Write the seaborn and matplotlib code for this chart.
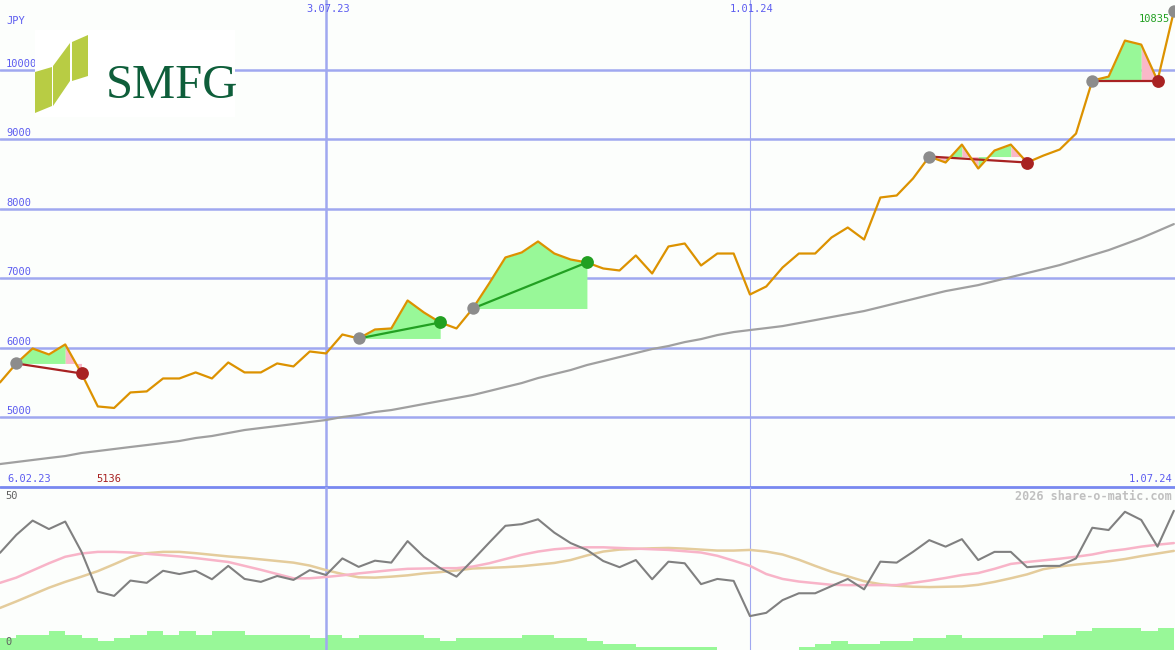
"""
SMFG weekly share price chart, share-o-matic style
"""

import pandas as pd
import matplotlib.pyplot as plt
import seaborn as sns
from itertools import groupby
from matplotlib.patches import Polygon

sns.set_style('white')
plt.rcParams['font.family'] = ['DejaVu Sans Mono']

# Weekly data, Mondays from 13.02.23 to 1.07.24
dates = pd.date_range('2023-02-13', periods=73, freq='7D')

price = [5503, 5776, 5991, 5905, 6049, 5632, 5158, 5136, 5359, 5374,
         5560, 5560, 5647, 5560, 5790, 5647, 5647, 5776, 5733, 5948,
         5920, 6192, 6135, 6264, 6279, 6681, 6509, 6365, 6279, 6566,
         6925, 7299, 7371, 7529, 7356, 7270, 7227, 7141, 7112, 7328,
         7069, 7457, 7500, 7184, 7356, 7356, 6767, 6882, 7155, 7356,
         7356, 7586, 7730, 7557, 8161, 8190, 8434, 8750, 8664, 8922,
         8578, 8836, 8922, 8664, 8764, 8851, 9080, 9842, 9899, 10417,
         10359, 9842, 10835]

ma_long = [4330, 4359, 4388, 4417, 4445, 4489, 4517, 4546, 4575, 4603,
           4632, 4661, 4704, 4733, 4776, 4819, 4848, 4876, 4905, 4934,
           4963, 5006, 5035, 5078, 5106, 5149, 5193, 5236, 5279, 5322,
           5379, 5437, 5494, 5566, 5624, 5681, 5753, 5810, 5868, 5925,
           5983, 6026, 6083, 6126, 6184, 6227, 6256, 6284, 6313, 6356,
           6399, 6443, 6486, 6529, 6586, 6644, 6701, 6759, 6816, 6859,
           6902, 6960, 7017, 7075, 7132, 7190, 7262, 7334, 7405, 7491,
           7578, 7678, 7779]

osc = [29.8, 35.3, 39.7, 37.1, 39.4, 30.1, 17.9, 16.6, 21.3, 20.6,
       24.3, 23.3, 24.3, 21.7, 25.8, 21.8, 20.9, 22.7, 21.5, 24.5,
       23.0, 28.1, 25.5, 27.4, 26.8, 33.4, 28.6, 25.1, 22.5, 27.6,
       32.9, 38.1, 38.6, 40.1, 36.0, 32.8, 30.7, 27.3, 25.4, 27.6,
       21.7, 27.1, 26.6, 20.2, 21.8, 21.2, 10.4, 11.4, 15.3, 17.4,
       17.4, 19.6, 21.8, 18.6, 27.1, 26.8, 30.1, 33.7, 31.7, 34.0,
       27.6, 30.1, 30.1, 25.4, 25.8, 25.8, 28.1, 37.5, 36.8, 42.4,
       39.9, 31.7, 42.7]

osc_fast = [20.6, 22.2, 24.4, 26.6, 28.6, 29.6, 30.1, 30.1, 29.9, 29.5,
            29.1, 28.7, 28.2, 27.6, 27.0, 25.8, 24.6, 23.3, 22.0, 22.0,
            22.4, 22.9, 23.5, 24.0, 24.5, 24.9, 25.0, 25.1, 25.1, 25.6,
            26.6, 27.9, 29.2, 30.2, 30.9, 31.3, 31.5, 31.5, 31.3, 31.1,
            30.9, 30.7, 30.3, 29.9, 28.9, 27.4, 25.8, 23.3, 21.8, 21.0,
            20.5, 20.0, 19.9, 19.9, 19.9, 19.9, 20.6, 21.3, 22.1, 23.0,
            23.6, 24.9, 26.4, 27.0, 27.5, 28.0, 28.6, 29.3, 30.3, 30.9,
            31.7, 32.3, 32.8]

osc_slow = [12.9, 14.9, 17.0, 19.1, 20.9, 22.5, 24.2, 26.3, 28.5, 29.7,
            30.1, 30.1, 29.7, 29.2, 28.7, 28.3, 27.8, 27.3, 26.8, 25.9,
            24.5, 23.3, 22.3, 22.2, 22.5, 22.9, 23.5, 23.9, 24.4, 25.0,
            25.2, 25.4, 25.7, 26.2, 26.7, 27.6, 29.0, 30.2, 30.8, 31.0,
            31.2, 31.3, 31.1, 30.8, 30.5, 30.5, 30.7, 30.2, 29.3, 27.7,
            25.8, 24.0, 22.6, 21.1, 20.2, 19.7, 19.4, 19.3, 19.4, 19.5,
            20.0, 20.9, 22.0, 23.2, 24.8, 25.6, 26.2, 26.7, 27.2, 27.9,
            28.8, 29.6, 30.4]

volume = [12, 15, 15, 19, 15, 12, 9, 12, 15, 19,
          15, 19, 15, 19, 19, 15, 15, 15, 15, 12,
          15, 12, 15, 15, 15, 15, 12, 9, 12, 12,
          12, 12, 15, 15, 12, 12, 9, 6, 6, 3,
          3, 3, 3, 3, 0, 0, 0, 0, 0, 3,
          6, 9, 6, 6, 9, 9, 12, 12, 15, 12,
          12, 12, 12, 12, 15, 15, 19, 22, 22, 22,
          19, 22, 22]

# trades: week index of entry / exit, colour of each weekly fill segment
trade_entry = [1, 22, 29, 57, 67]
trade_exit = [5, 27, 36, 63, 71]
trade_fill = ['gggp', 'ggggg', 'ggggggg', 'pgpggp', 'gggp']
open_entry = 72

price_ticks = [5000, 6000, 7000, 8000, 9000, 10000]
date_marks = [pd.Timestamp('2023-07-03'), pd.Timestamp('2024-01-01')]
date_labels = ['3.07.23', '1.01.24']

BG = '#fcfefc'
GRID = '#a0a8f0'
BLUE_TXT = '#5c5cf0'
ORANGE = '#dc9200'
GREEN_FILL = '#98f898'
PINK_FILL = '#fab8c8'
DARK_RED = '#a82222'
DARK_GREEN = '#22a022'

df = pd.DataFrame({'date': dates, 'price': price, 'ma_long': ma_long,
                   'osc': osc, 'osc_fast': osc_fast, 'osc_slow': osc_slow,
                   'volume': volume})

fig = plt.figure(figsize=(11.75, 6.5), dpi=100, facecolor=BG)
ax = fig.add_axes([0, 163 / 650, 1, 487 / 650], facecolor=BG)
ax2 = fig.add_axes([0, 0, 1, 163 / 650], facecolor=BG)
axv = ax2.twinx()

xlim = (dates[0], dates[-1] + pd.Timedelta(days=0.5))

# ---- price panel ----
for v in price_ticks:
    ax.axhline(v, color=GRID, lw=1.8, zorder=1)
    ax.annotate(f'{v}', xy=(0, v), xycoords=('axes fraction', 'data'),
                xytext=(6, 3), textcoords='offset pixels', va='baseline',
                ha='left', color=BLUE_TXT, fontsize=7.5, zorder=8)
for d, lw in zip(date_marks, [1.8, 0.8]):
    ax.axvline(d, color=GRID, lw=lw, zorder=1)
    ax2.axvline(d, color=GRID, lw=lw, zorder=1)
for d, lab in zip(date_marks, date_labels):
    ax.annotate(lab, xy=(d, 1), xycoords=('data', 'axes fraction'),
                xytext=(2, -9), textcoords='offset pixels', ha='center',
                va='center', color=BLUE_TXT, fontsize=7.5)

# trade fills (one polygon per run of same colour) and lines
for e, x, segs in zip(trade_entry, trade_exit, trade_fill):
    k = 0
    for c, run in groupby(segs):
        n = len(list(run))
        i0, i1 = e + k, e + k + n
        ax.fill_between(dates[i0:i1 + 1], price[i0:i1 + 1], price[e],
                        color=GREEN_FILL if c == 'g' else PINK_FILL,
                        lw=0, zorder=2)
        k += n
    win = price[x] > price[e]
    ax.plot([dates[e], dates[x]], [price[e], price[x]],
            color=DARK_GREEN if win else DARK_RED, lw=1.6, zorder=3)

sns.lineplot(data=df, x='date', y='ma_long', color='#a0a0a0', lw=1.6,
             ax=ax, zorder=2)
sns.lineplot(data=df, x='date', y='price', color=ORANGE, lw=1.6,
             ax=ax, zorder=4)

entries = trade_entry + [open_entry]
ax.scatter(dates[entries], [price[i] for i in entries], s=80,
           color='#8c8c8c', lw=0, zorder=5)
for e, x in zip(trade_entry, trade_exit):
    win = price[x] > price[e]
    ax.scatter([dates[x]], [price[x]], s=85, lw=0, zorder=5,
               color=DARK_GREEN if win else DARK_RED)

ax.set_xlim(xlim)
ax.set_ylim(4000, 11000)
ax.axhline(4000, color='#7888f0', lw=2, clip_on=False, zorder=6)
ax.axis('off')

ax.annotate('JPY', xy=(0, 1), xycoords='axes fraction', xytext=(6, -21),
            textcoords='offset pixels', va='center', color=BLUE_TXT,
            fontsize=7.5)
ax.annotate('6.02.23', xy=(0, 0), xycoords='axes fraction', xytext=(7, 8),
            textcoords='offset pixels', va='center', color=BLUE_TXT,
            fontsize=7.5)
ax.annotate('1.07.24', xy=(1, 0), xycoords='axes fraction', xytext=(-3, 8),
            textcoords='offset pixels', va='center', ha='right',
            color=BLUE_TXT, fontsize=7.5)
i_min = price.index(min(price))
ax.annotate(f'{min(price)}', xy=(dates[i_min], 0),
            xycoords=('data', 'axes fraction'), xytext=(7, 8),
            textcoords='offset pixels', va='center', ha='right',
            color=DARK_RED, fontsize=7.5)
ax.annotate(f'{price[-1]}', xy=(dates[-1], price[-1]), xytext=(-4, -8),
            textcoords='offset pixels', va='center', ha='right',
            color=DARK_GREEN, fontsize=7.5)

# ---- indicator panel ----
axv.fill_between(dates, volume, step='post', color=GREEN_FILL, lw=0)
axv.set_ylim(0, 163)
axv.axis('off')
ax2.set_zorder(axv.get_zorder() + 1)
ax2.patch.set_visible(False)

sns.lineplot(data=df, x='date', y='osc_slow', color='#e4cc9c', lw=1.8,
             ax=ax2, zorder=3)
sns.lineplot(data=df, x='date', y='osc_fast', color='#f8b4c8', lw=1.8,
             ax=ax2, zorder=3)
sns.lineplot(data=df, x='date', y='osc', color='#808080', lw=1.5,
             ax=ax2, zorder=4)
ax2.set_xlim(xlim)
ax2.set_ylim(0, 50)
ax2.axis('off')

ax2.annotate('50', xy=(0, 1), xycoords='axes fraction', xytext=(5, -9),
             textcoords='offset pixels', va='center', color='#606060',
             fontsize=7.5)
ax2.annotate('0', xy=(0, 0), xycoords='axes fraction', xytext=(5, 8),
             textcoords='offset pixels', va='center', color='#606060',
             fontsize=7.5)
ax2.annotate('2026 share-o-matic.com', xy=(1, 1), xycoords='axes fraction',
             xytext=(-3, -10), textcoords='offset pixels', va='center',
             ha='right', color='#c0c0c0', fontsize=8.5, fontweight='bold')

# ---- logo ----
lg = fig.add_axes([35 / 1175, 1 - 117 / 650, 200 / 1175, 87 / 650],
                  facecolor='white')
lg.set_xlim(35, 235)
lg.set_ylim(117, 30)
lg.set_xticks([])
lg.set_yticks([])
for s in lg.spines.values():
    s.set_visible(False)
for pts in [[(35, 72), (52, 67), (52, 106), (35, 113)],
            [(53, 66), (70, 43), (70, 81), (53, 106)],
            [(72, 42), (88, 35), (88, 76), (72, 81)]]:
    lg.add_patch(Polygon(pts, closed=True, color='#b8cc44', lw=0))
lg.text(106, 98, 'SMFG', ha='left', va='baseline', color='#0e5e3a',
        fontsize=35, family=['Liberation Serif', 'DejaVu Serif'])

fig.savefig('out.png', dpi=100, facecolor=BG)
plt.close(fig)
